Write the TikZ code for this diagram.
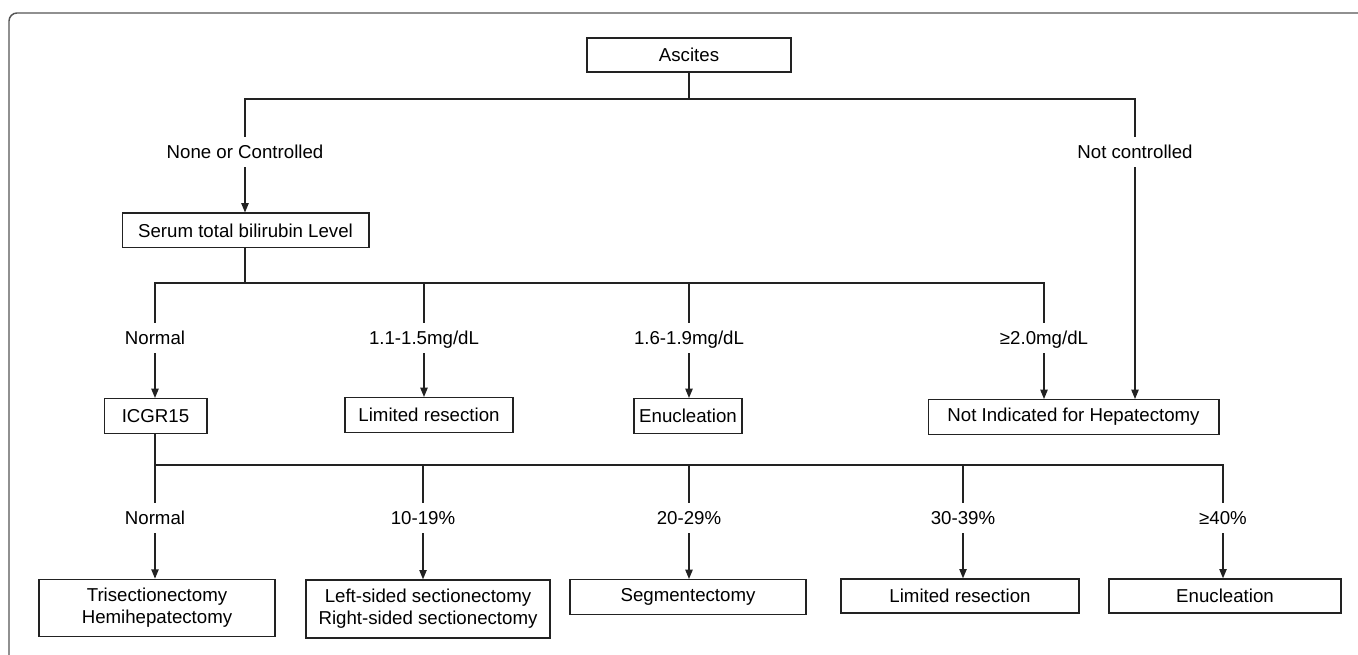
\documentclass[tikz,border=0pt]{standalone}
\usepackage{fontspec}
\setmainfont{Liberation Sans}
\usetikzlibrary{arrows.meta}
\definecolor{linec}{HTML}{222222}
\definecolor{framec}{HTML}{555555}
\begin{document}
\begin{tikzpicture}[x=0.75pt,y=-0.75pt,
  every node/.style={font=\fontsize{14pt}{16.5pt}\selectfont, text=black},
  box/.style={draw=linec, line width=1pt, rectangle, inner sep=0pt, align=center},
  lab/.style={inner sep=0pt, minimum height=22.5pt, text height=10pt, text depth=0pt},
  ln/.style={draw=linec, line width=1pt},
  arr/.style={ln, -{Triangle[length=7pt,width=5.5pt]}}
]
\useasboundingbox (0,0) rectangle (1358,655);
\draw[framec, line width=1.1pt, rounded corners=6pt] (9,655) -- (9,13) -- (1358,13);

% boxes
\node[box, minimum width=153pt, minimum height=25.5pt] (asc) at (689,55) {Ascites};
\node[box, minimum width=185pt, minimum height=26pt] (serum) at (245.5,230.5) {Serum total bilirubin Level};
\node[box, minimum width=77pt, minimum height=26pt] (icg) at (155.5,416) {ICGR15};
\node[box, minimum width=126pt, minimum height=26pt] (lim1) at (429,415) {Limited resection};
\node[box, minimum width=81pt, minimum height=26pt] (enu1) at (688,416) {Enucleation};
\node[box, minimum width=218pt, minimum height=26pt] (notind) at (1073.5,417) {Not Indicated for Hepatectomy};
\node[box, minimum width=177pt, minimum height=43pt] (tri) at (157,608) {Trisectionectomy\\Hemihepatectomy};
\node[box, minimum width=183pt, minimum height=43.5pt] (lsr) at (428,609) {Left-sided sectionectomy\\Right-sided sectionectomy};
\node[box, minimum width=177pt, minimum height=26pt] (seg) at (688,597) {Segmentectomy};
\node[box, minimum width=178.5pt, minimum height=25.5pt] (lim2) at (960,596) {Limited resection};
\node[box, minimum width=174pt, minimum height=25.5pt] (enu2) at (1225,596) {Enucleation};

% level 1
\coordinate (h1) at (689,99);
\node[lab] (lnc) at (245,152) {None or Controlled};
\node[lab] (lnotc) at (1135,152) {Not controlled};
\draw[ln] (asc.south) -- (h1);
\draw[ln] (lnc.north) -- (lnc.north |- h1) -- (lnotc.north |- h1) -- (lnotc.north);
\draw[arr] (lnc.south) -- (lnc.south |- serum.north);
\draw[arr] (lnotc.south) -- (lnotc.south |- notind.north);

% level 2
\coordinate (h2) at (245,283);
\node[lab] (l21) at (155,338) {Normal};
\node[lab] (l22) at (424,338) {1.1-1.5mg/dL};
\node[lab] (l23) at (689,338) {1.6-1.9mg/dL};
\node[lab] (l24) at (1044,338) {≥2.0mg/dL};
\draw[ln] (serum.south -| h2) -- (h2);
\draw[ln] (l21.north) -- (l21.north |- h2) -- (l24.north |- h2) -- (l24.north);
\draw[ln] (l22.north) -- (l22.north |- h2);
\draw[ln] (l23.north) -- (l23.north |- h2);
\draw[arr] (l21.south) -- (l21.south |- icg.north);
\draw[arr] (l22.south) -- (l22.south |- lim1.north);
\draw[arr] (l23.south) -- (l23.south |- enu1.north);
\draw[arr] (l24.south) -- (l24.south |- notind.north);

% level 3
\coordinate (h3) at (155,465);
\node[lab] (l31) at (155,518) {Normal};
\node[lab] (l32) at (423,518) {10-19\%};
\node[lab] (l33) at (689,518) {20-29\%};
\node[lab] (l34) at (963,518) {30-39\%};
\node[lab] (l35) at (1223,518) {≥40\%};
\draw[ln] (icg.south -| h3) -- (h3);
\draw[ln] (l31.north) -- (l31.north |- h3) -- (l35.north |- h3) -- (l35.north);
\draw[ln] (l32.north) -- (l32.north |- h3);
\draw[ln] (l33.north) -- (l33.north |- h3);
\draw[ln] (l34.north) -- (l34.north |- h3);
\draw[arr] (l31.south) -- (l31.south |- tri.north);
\draw[arr] (l32.south) -- (l32.south |- lsr.north);
\draw[arr] (l33.south) -- (l33.south |- seg.north);
\draw[arr] (l34.south) -- (l34.south |- lim2.north);
\draw[arr] (l35.south) -- (l35.south |- enu2.north);
\end{tikzpicture}
\end{document}
